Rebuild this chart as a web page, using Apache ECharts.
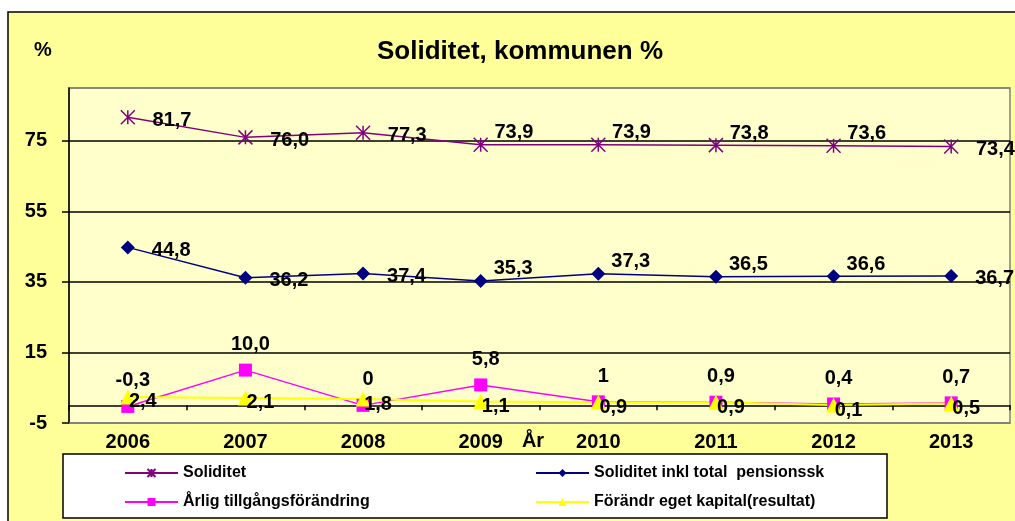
<!DOCTYPE html>
<html>
<head>
<meta charset="utf-8">
<script src="https://cdn.jsdelivr.net/npm/echarts@6/dist/echarts.min.js"></script>
<style>
html,body{margin:0;padding:0;background:#fff}
#main{width:1015px;height:521px}
</style>
</head>
<body>
<div id="main"></div>
<script>
// data
var years = ['2006','2007','2008','2009','2010','2011','2012','2013'];
var soliditet = [81.7, 76.0, 77.3, 73.9, 73.9, 73.8, 73.6, 73.4];
var soliditetInkl = [44.8, 36.2, 37.4, 35.3, 37.3, 36.5, 36.6, 36.7];
var arligForandring = [-0.3, 10.0, 0, 5.8, 1, 0.9, 0.4, 0.7];
var arligText = ['-0,3', '10,0', '0', '5,8', '1', '0,9', '0,4', '0,7'];
var egetKapital = [2.4, 2.1, 1.8, 1.1, 0.9, 0.9, 0.1, 0.5];
var yTicks = [-5, 15, 35, 55, 75];
var seriesNames = ['Soliditet', 'Soliditet inkl total  pensionssk', 'Årlig tillgångsförändring', 'Förändr eget kapital(resultat)'];

// labels of the two upper lines sit a bit higher for these years
var labelHigh = [false, false, false, true, true, true, true, false];

var FONT = '"Liberation Sans", Arial, sans-serif';
var starPath = 'path://M0,0L10,10M10,0L0,10M5,0L5,10';

function dec1(p) {
    return p.value.toFixed(1).replace('.', ',');
}
function withLabels(values) {
    return values.map(function (v, i) {
        var item = {value: v};
        if (labelHigh[i]) item.label = {offset: [-11, -12]};
        return item;
    });
}
var labelBase = {show: true, color: '#000', fontSize: 20, fontWeight: 'bold', fontFamily: FONT};

var myChart = echarts.init(document.getElementById('main'));

var option = {
    animation: false,
    backgroundColor: '#fff',
    title: {
        text: 'Soliditet, kommunen %',
        left: 372,
        top: 34,
        textStyle: {fontSize: 26, fontWeight: 'bold', color: '#000', fontFamily: FONT}
    },
    graphic: [
        {type: 'rect', z: -10, shape: {x: 8, y: 12, width: 1030, height: 530},
         style: {fill: '#FFFF99', stroke: '#000', lineWidth: 1.5}},
        {type: 'rect', z: 1, shape: {x: 63, y: 454, width: 824, height: 64},
         style: {fill: '#fff', stroke: '#000', lineWidth: 1.5}},
        {type: 'text', z: 5, style: {text: '%', x: 43, y: 50, fill: '#000', align: 'center', verticalAlign: 'middle',
         font: 'bold 20px ' + FONT}},
        {type: 'text', z: 5, style: {text: 'År', x: 533, y: 441, fill: '#000', align: 'center', verticalAlign: 'middle',
         font: 'bold 20px ' + FONT}}
    ],
    legend: [
        {
            data: [seriesNames[0], seriesNames[2]],
            orient: 'vertical', left: 124, top: 465, padding: 0,
            itemWidth: 53, itemHeight: 10, itemGap: 13, selectedMode: false,
            textStyle: {fontSize: 16, fontWeight: 'bold', color: '#000', fontFamily: FONT}
        },
        {
            data: [seriesNames[1], seriesNames[3]],
            orient: 'vertical', left: 535, top: 465, padding: 0,
            itemWidth: 53, itemHeight: 10, itemGap: 13, selectedMode: false,
            textStyle: {fontSize: 16, fontWeight: 'bold', color: '#000', fontFamily: FONT}
        }
    ],
    grid: {
        left: 69, right: 5, top: 88, bottom: 98,
        show: true, backgroundColor: '#FFFFCC', borderColor: '#808080', borderWidth: 1.5
    },
    xAxis: [
        {
            type: 'category', data: years, position: 'bottom',
            axisLine: {onZero: false, lineStyle: {color: '#808080', width: 1.5}},
            axisTick: {show: false},
            axisLabel: {color: '#000', fontSize: 20, fontWeight: 'bold', fontFamily: FONT, margin: 9}
        },
        {
            type: 'category', data: years, position: 'top',
            axisLine: {onZero: true, lineStyle: {color: '#000', width: 1.5}},
            axisTick: {show: true, inside: true, length: 5, lineStyle: {color: '#000', width: 1.5}},
            axisLabel: {show: false}
        }
    ],
    yAxis: {
        type: 'value',
        min: yTicks[0], max: 90, interval: yTicks[1] - yTicks[0],
        axisLine: {show: true, lineStyle: {color: '#000', width: 1.5}},
        axisTick: {show: true, length: 7, lineStyle: {color: '#000', width: 1.5}},
        axisLabel: {color: '#000', fontSize: 20, fontWeight: 'bold', fontFamily: FONT, margin: 22, showMaxLabel: false},
        splitLine: {lineStyle: {color: ['#808080', '#000', '#000', '#000', '#000', '#808080'], width: 1.5}}
    },
    series: [
        {
            name: seriesNames[0], type: 'line', data: withLabels(soliditet),
            symbol: starPath, symbolSize: 14,
            lineStyle: {color: '#800080', width: 1.5},
            itemStyle: {color: '#800080', borderColor: '#800080', borderWidth: 1.5},
            label: Object.assign({position: 'right', distance: 17, offset: [0, 3], formatter: dec1}, labelBase)
        },
        {
            name: seriesNames[1], type: 'line', data: withLabels(soliditetInkl),
            symbol: 'diamond', symbolSize: 14,
            lineStyle: {color: '#000080', width: 1.5},
            itemStyle: {color: '#000080'},
            label: Object.assign({position: 'right', distance: 17, offset: [0, 3], formatter: dec1}, labelBase)
        },
        {
            name: seriesNames[2], type: 'line', data: arligForandring,
            symbol: 'rect', symbolSize: 13,
            lineStyle: {color: '#FF00FF', width: 1.5},
            itemStyle: {color: '#FF00FF'},
            label: Object.assign({position: 'top', distance: 9, offset: [5, 0],
                formatter: function (p) { return arligText[p.dataIndex]; }}, labelBase)
        },
        {
            name: seriesNames[3], type: 'line', data: egetKapital,
            symbol: 'triangle', symbolSize: 15,
            lineStyle: {color: '#FFFF00', width: 2},
            itemStyle: {color: '#FFFF00'},
            label: Object.assign({position: 'inside', offset: [15, 5], formatter: dec1}, labelBase)
        }
    ]
};

myChart.setOption(option);
</script>
</body>
</html>
